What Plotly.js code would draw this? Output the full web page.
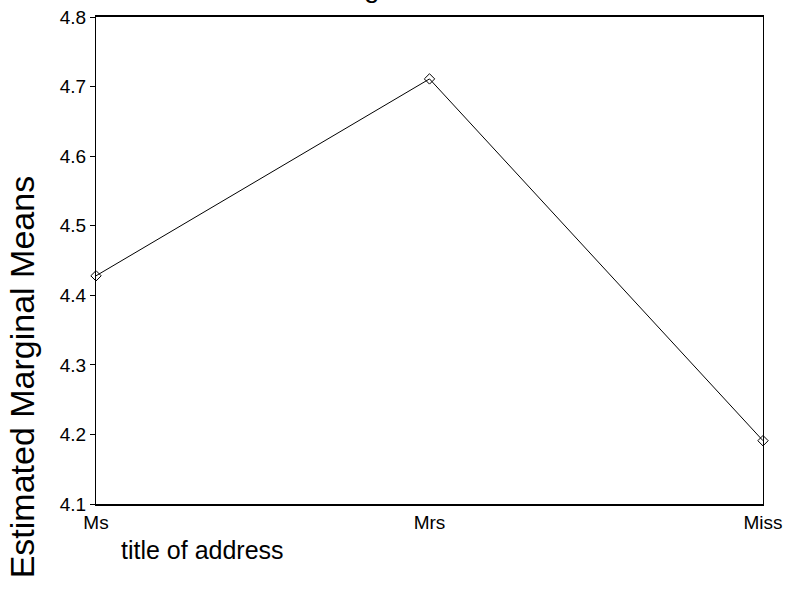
<!DOCTYPE html>
<html>
<head>
<meta charset="utf-8">
<script src="https://cdn.plot.ly/plotly-3.0.1.min.js"></script>
<style>html,body{margin:0;padding:0;background:#fff;}#chart{width:787px;height:589px;}</style>
</head>
<body>
<div id="chart"></div>
<script>
const categories = ["Ms", "Mrs", "Miss"];
const means = [4.428, 4.711, 4.191];
const yTickValues = [4.1, 4.2, 4.3, 4.4, 4.5, 4.6, 4.7, 4.8];
const yTickLabels = ["4.1", "4.2", "4.3", "4.4", "4.5", "4.6", "4.7", "4.8"];

const font = "Liberation Sans, Arial, sans-serif";

const trace = {
  x: categories,
  y: means,
  type: "scatter",
  mode: "lines+markers",
  line: {color: "#000", width: 1},
  marker: {symbol: "diamond-open", size: 8, color: "#000", line: {width: 1, color: "#000"}},
  cliponaxis: false,
  hoverinfo: "none"
};

const layout = {
  width: 787,
  height: 589,
  margin: {l: 96, r: 24, t: 17, b: 85},
  paper_bgcolor: "#fff",
  plot_bgcolor: "#fff",
  showlegend: false,
  font: {family: font, color: "#000"},
  xaxis: {
    type: "category",
    range: [0, 2],
    showgrid: false,
    zeroline: false,
    showline: true,
    linecolor: "#000",
    linewidth: 2,
    mirror: true,
    ticks: "",
    tickfont: {family: font, size: 19, color: "#000"},
    ticklabelstandoff: 0
  },
  yaxis: {
    range: [4.1, 4.8],
    tickvals: yTickValues,
    ticktext: yTickLabels,
    showgrid: false,
    zeroline: false,
    showline: true,
    linecolor: "#000",
    linewidth: 1,
    mirror: true,
    ticks: "outside",
    ticklen: 5,
    tickcolor: "#000",
    tickfont: {family: font, size: 19, color: "#000"}
  },
  annotations: [
    {
      text: "Estimated Marginal Means",
      xref: "paper", yref: "paper",
      x: -0.111, y: 0.262,
      xanchor: "center", yanchor: "middle",
      textangle: -90,
      showarrow: false,
      font: {family: font, size: 34, color: "#000"}
    },
    {
      text: "title of address",
      xref: "paper", yref: "paper",
      x: 0.159, y: -0.0945,
      xanchor: "center", yanchor: "middle",
      showarrow: false,
      font: {family: font, size: 25, color: "#000"}
    },
    {
      text: "g",
      xref: "paper", yref: "paper",
      x: 0.414, y: 1.025,
      xanchor: "center", yanchor: "bottom",
      showarrow: false,
      font: {family: font, size: 28, color: "#000"}
    }
  ]
};

Plotly.newPlot("chart", [trace], layout, {displayModeBar: false, staticPlot: true});
</script>
</body>
</html>
